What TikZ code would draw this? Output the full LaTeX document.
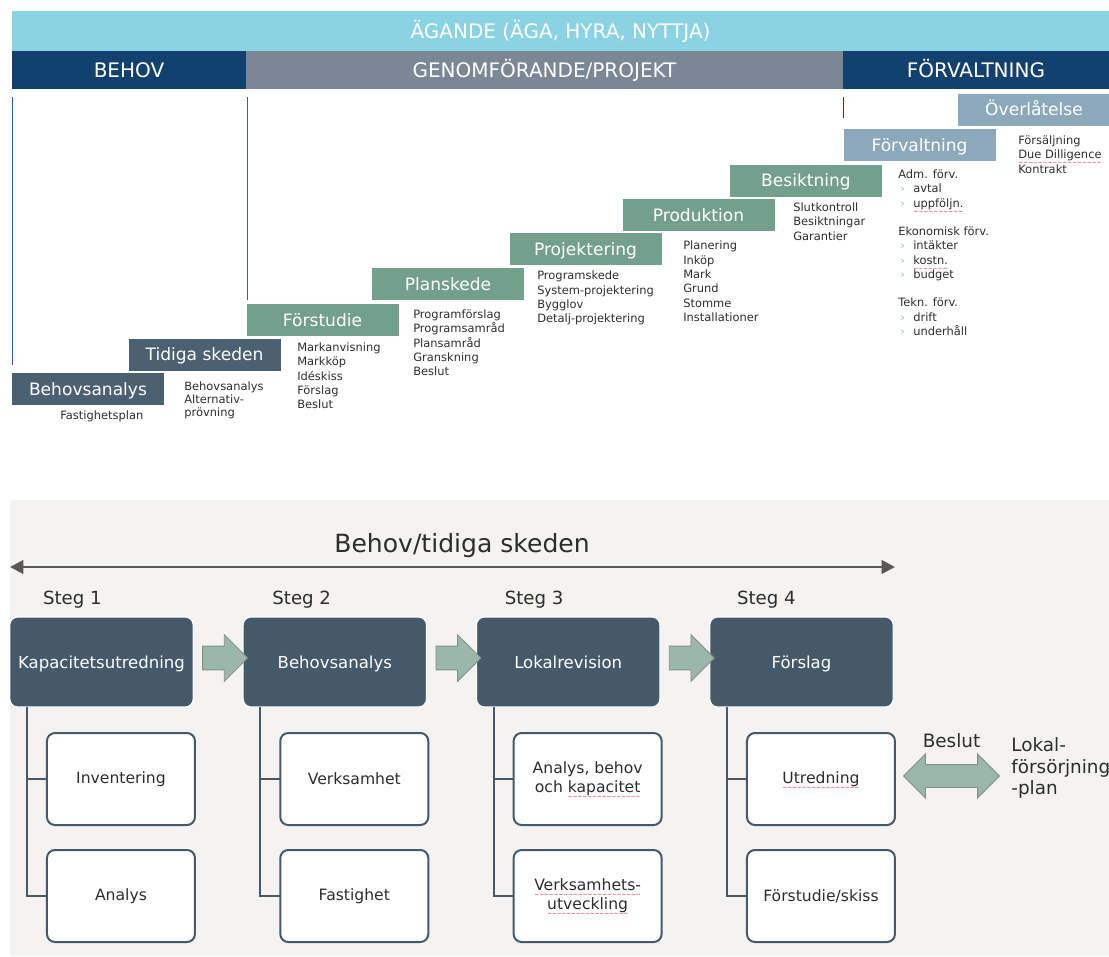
\documentclass[tikz,border=0pt]{standalone}
\usepackage{fontspec}
\setmainfont{DejaVu Sans}
\usepackage{xcolor}
\usepackage{tikz}
\usetikzlibrary{arrows.meta,positioning,calc,shapes.arrows}
\definecolor{ownbar}{RGB}{138,211,227}
\definecolor{navy}{RGB}{18,64,111}
\definecolor{midgray}{RGB}{123,135,149}
\definecolor{slatebox}{RGB}{75,97,114}
\definecolor{sage}{RGB}{115,159,141}
\definecolor{steel}{RGB}{140,169,188}
\definecolor{ink}{RGB}{45,45,45}
\definecolor{bulcol}{RGB}{120,205,225}
\definecolor{panel}{RGB}{244,243,241}
\definecolor{stepfill}{RGB}{68,89,106}
\definecolor{flowfill}{RGB}{155,182,171}
\definecolor{flowedge}{RGB}{128,145,137}
\definecolor{spancol}{RGB}{88,88,88}
\definecolor{guideblue}{RGB}{50,90,170}
\newcommand\squig[1]{\setbox0=\hbox{#1}\rlap{\raisebox{-4.6pt}[0pt][0pt]{\hbox to \wd0{\color{red!85!black}\fontsize{4.2}{5}\selectfont\xleaders\hbox{\char"223C}\hfill}}}\box0}
\newcommand\itm{\makebox[11.25pt][l]{\hspace{1.5pt}\textcolor{bulcol}{›}}}
\tikzset{
  hdr/.style={
    inner sep=0pt, outer sep=0pt, text=white,
    font=\fontsize{15}{18}\selectfont, text height=11pt, text depth=0pt
  },
  stair/.style={
    inner sep=0pt, outer sep=0pt, text=white,
    minimum width=114pt, minimum height=24pt,
    font=\fontsize{12.8}{15}\selectfont, text height=9.3pt, text depth=0pt
  },
  early/.style={stair, fill=slatebox},
  build/.style={stair, fill=sage},
  admin/.style={stair, fill=steel},
  list/.style={
    anchor=north west, inner sep=0pt, align=left, text=ink,
    font=\fontsize{8.6}{10.7}\selectfont
  },
  guide/.style={line width=0.6pt},
  span/.style={{Triangle[length=10pt,width=10pt]}-{Triangle[length=10pt,width=10pt]}, draw=spancol, line width=2.2pt},
  stepbox/.style={
    fill=stepfill, draw=white, line width=0.8pt, rounded corners=6pt,
    outer sep=0pt, minimum width=137.5pt, minimum height=67.5pt, text=white,
    font=\fontsize{12.4}{15}\selectfont, text height=9pt, text depth=0pt
  },
  sub/.style={
    fill=white, draw=stepfill, line width=1.5pt, rounded corners=6pt,
    outer sep=0pt, minimum width=111pt, minimum height=69pt, text=ink,
    align=center, font=\fontsize{11.7}{14.3}\selectfont
  },
  tree/.style={draw=stepfill, line width=1.5pt},
  flow/.style={
    single arrow, fill=flowfill, draw=flowedge, line width=0.6pt,
    minimum height=33.75pt, single arrow head extend=8.6pt,
    inner xsep=0pt, inner ysep=8.6pt
  },
  decide/.style={
    double arrow, fill=flowfill, draw=flowedge, line width=0.6pt,
    minimum height=72pt, double arrow head extend=7.9pt,
    inner xsep=0pt, inner ysep=8.25pt
  },
  steg/.style={anchor=west, inner sep=0pt, text=ink, font=\fontsize{13.6}{16}\selectfont},
  side/.style={inner sep=0pt, text=ink, font=\fontsize{13.8}{16}\selectfont}
}
\begin{document}
\begin{tikzpicture}[x=0.75pt, y=-0.75pt]
  \useasboundingbox (0,0) rectangle (1109,956);
  % header rows
  \node[hdr, fill=ownbar, minimum width=822.75pt, minimum height=30pt] (agande) at (560.5,31) {ÄGANDE (ÄGA, HYRA, NYTTJA)};
  \node[hdr, fill=navy, minimum width=175.5pt, minimum height=28.5pt, anchor=north west] (behov) at (agande.south west) {BEHOV};
  \node[hdr, fill=midgray, minimum width=447.75pt, minimum height=28.5pt, anchor=west] (genom) at (behov.east) {GENOMFÖRANDE/PROJEKT};
  \node[hdr, fill=navy, minimum width=199.5pt, minimum height=28.5pt, anchor=west] (forv) at (genom.east) {FÖRVALTNING};
  \draw[guide, guideblue] (12,97) -- (12,365);
  \draw[guide, slatebox] (247,97) -- (247,300);
  \draw[guide, navy] (843,97) -- (843,118);
  % staircase
  \node[early] (ba) at (88,389) {Behovsanalys};
  \node[early] (ts) at (204.5,354.5) {Tidiga skeden};
  \node[build] (fs) at (322.5,320) {Förstudie};
  \node[build] (ps) at (448,284) {Planskede};
  \node[build] (pj) at (585.5,249) {Projektering};
  \node[build] (pd) at (698.5,215) {Produktion};
  \node[build] (bs) at (806,180.5) {Besiktning};
  \node[admin] (fv) at (919.5,145) {Förvaltning};
  \node[admin] (ol) at (1034,109.5) {Överlåtelse};
  \node[list, anchor=west] (ba-l) at (60,416) {Fastighetsplan};
  \node[list, font=\fontsize{8.6}{9.6}\selectfont] (ts-l) at (184,381.5)
    {Behovsanalys\\Alternativ-\\prövning};
  \node[list] (fs-l) at (297,342.5)
    {Markanvisning\\Markköp\\Idéskiss\\Förslag\\Beslut};
  \node[list] (ps-l) at (413,309.5)
    {Programförslag\\Programsamråd\\Plansamråd\\Granskning\\Beslut};
  \node[list] (pj-l) at (537,271)
    {Programskede\\System-projektering\\Bygglov\\Detalj-projektering};
  \node[list] (pd-l) at (683,241)
    {Planering\\Inköp\\Mark\\Grund\\Stomme\\Installationer};
  \node[list] (bs-l) at (793,202.5)
    {Slutkontroll\\Besiktningar\\Garantier};
  \node[list] (fv-l) at (898,169.5)
    {Adm. förv.\\
     \itm avtal\\
     \itm \squig{uppföljn.}\\[10.7pt]
     Ekonomisk förv.\\
     \itm intäkter\\
     \itm \squig{kostn.}\\
     \itm budget\\[10.7pt]
     Tekn. förv.\\
     \itm drift\\
     \itm underhåll};
  \node[list] (ol-l) at (1018,135.5)
    {Försäljning\\\squig{Due Dilligence}\\Kontrakt};
  % lower panel
  \fill[panel] (10,500) rectangle (1109,956);
  \coordinate (sl) at (10,567);
  \coordinate (sr) at (895,567);
  \draw[span] (sl) -- (sr);
  \node[side, font=\fontsize{18.8}{22}\selectfont] (tid) at (462,546) {Behov/tidiga skeden};
  \node[stepbox] (k1) at (101.5,662) {Kapacitetsutredning};
  \node[stepbox, right=37.5pt of k1] (k2) {Behovsanalys};
  \node[stepbox, right=37.5pt of k2] (k3) {Lokalrevision};
  \node[stepbox, right=37.5pt of k3] (k4) {Förslag};
  \node[steg] (s1) at ($(k1.north west)+(33,-17)$) {Steg 1};
  \node[steg] (s2) at ($(k2.north west)+(29,-17)$) {Steg 2};
  \node[steg] (s3) at ($(k3.north west)+(28,-17)$) {Steg 3};
  \node[steg] (s4) at ($(k4.north west)+(27,-17)$) {Steg 4};
  \node[flow] (f12) at ($(k1.east)!0.5!(k2.west)+(1,-4)$) {};
  \node[flow] (f23) at ($(k2.east)!0.5!(k3.west)+(1,-4)$) {};
  \node[flow] (f34) at ($(k3.east)!0.5!(k4.west)+(1,-4)$) {};
  \node[sub, below=19.5pt of k1, xshift=14.6pt] (k1a) {Inventering};
  \node[sub, below=18.75pt of k1a] (k1b) {Analys};
  \node[sub, below=19.5pt of k2, xshift=14.6pt] (k2a) {Verksamhet};
  \node[sub, below=18.75pt of k2a] (k2b) {Fastighet};
  \node[sub, below=19.5pt of k3, xshift=14.6pt] (k3a) {Analys, behov\\och \squig{kapacitet}};
  \node[sub, below=18.75pt of k3a] (k3b) {\squig{Verksamhets-}\\\squig{utveckling}};
  \node[sub, below=19.5pt of k4, xshift=14.6pt] (k4a) {\squig{Utredning}};
  \node[sub, below=18.75pt of k4a] (k4b) {Förstudie/skiss};
  \draw[tree] ($(k1.south west)+(17,0)$) |- (k1b.west);
  \draw[tree] ($(k1.south west)+(17,0)$) |- (k1a.west);
  \draw[tree] ($(k2.south west)+(17,0)$) |- (k2b.west);
  \draw[tree] ($(k2.south west)+(17,0)$) |- (k2a.west);
  \draw[tree] ($(k3.south west)+(17,0)$) |- (k3b.west);
  \draw[tree] ($(k3.south west)+(17,0)$) |- (k3a.west);
  \draw[tree] ($(k4.south west)+(17,0)$) |- (k4b.west);
  \draw[tree] ($(k4.south west)+(17,0)$) |- (k4a.west);
  \node[decide, right=6pt of k4a, yshift=2.25pt] (dec) {};
  \node[side, above=12pt of dec] (bes) {Beslut};
  \node[side, align=left, right=8.25pt of dec, yshift=6pt] (lfp) {Lokal-\\försörjning\\-plan};
\end{tikzpicture}
\end{document}
